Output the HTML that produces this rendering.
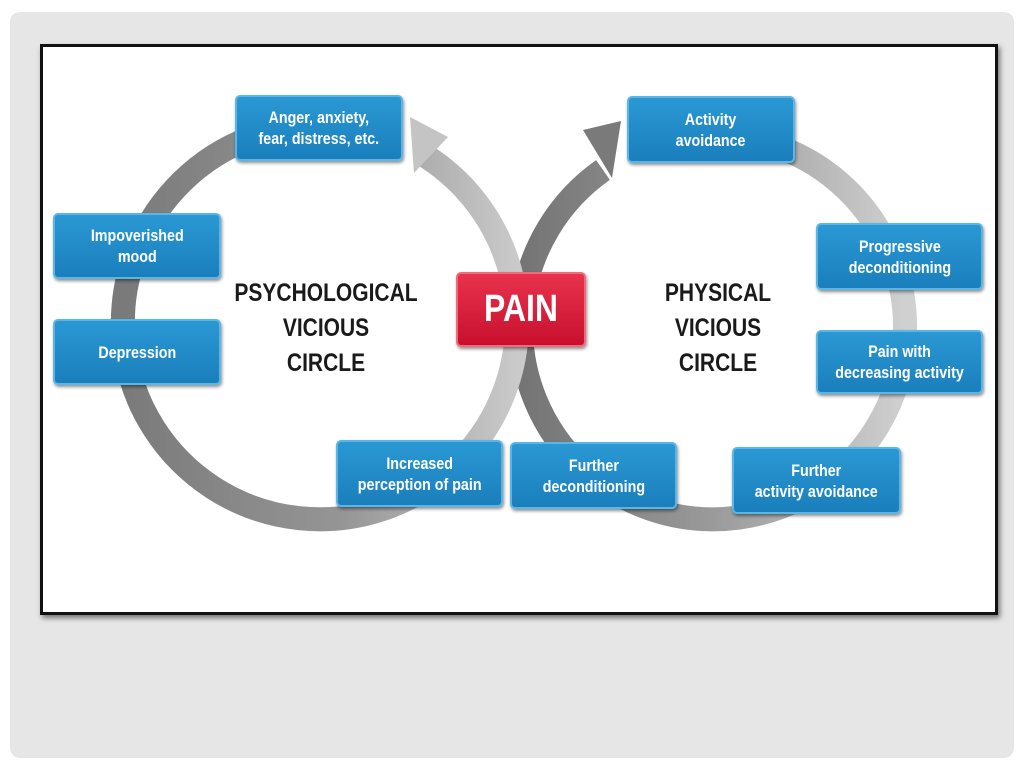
<!DOCTYPE html>
<html><head><meta charset="utf-8"><style>
html,body{margin:0;padding:0;background:#fff;}
body{width:1024px;height:768px;position:relative;overflow:hidden;font-family:"Liberation Sans",sans-serif;}
.panel{position:absolute;left:10px;top:12px;width:1004px;height:746px;background:#e6e6e6;border-radius:10px;}
.frame{position:absolute;left:40px;top:44px;width:952px;height:565px;background:#fff;border:3px solid #111;box-shadow:2px 3px 5px rgba(0,0,0,.5);}
svg{position:absolute;left:0;top:0;}
.b{position:absolute;background:linear-gradient(#2a98d4,#1a7fbc);border:2px solid #5bb6e6;border-radius:5px;box-shadow:1px 2px 3px rgba(0,0,0,.45);color:#fff;font-weight:bold;font-size:17px;line-height:21px;text-align:center;display:flex;align-items:center;justify-content:center;box-sizing:border-box;white-space:nowrap;}
.b span{display:inline-block;transform:scaleX(0.84);}
.t{position:absolute;font-weight:bold;font-size:25px;line-height:35px;text-align:center;color:#1a1a1a;width:240px;transform:scaleX(0.84);}
</style></head><body>
<div class="panel"></div>
<div class="frame"></div>
<svg width="1024" height="768">
<defs>
<linearGradient id="gl" x1="0" x2="1" y1="0" y2="0"><stop offset="0" stop-color="#7a7a7a"/><stop offset="0.55" stop-color="#959595"/><stop offset="1" stop-color="#cacaca"/></linearGradient>
<linearGradient id="gr" x1="0" x2="1" y1="0" y2="0"><stop offset="0" stop-color="#747474"/><stop offset="0.5" stop-color="#9a9a9a"/><stop offset="1" stop-color="#d0d0d0"/></linearGradient>
</defs>
<path d="M 603 170 A 192 192 0 1 0 779 147" fill="none" stroke="url(#gr)" stroke-width="24"/>
<polygon points="621,121 583,130 612,178" fill="#7a7a7a"/>
<path d="M 424 155 A 197 197 0 1 1 253 137" fill="none" stroke="url(#gl)" stroke-width="24"/>
<polygon points="410,117 448,137 414,173" fill="#c4c4c4"/>
</svg>
<div class="b" style="left:235px;top:95px;width:168px;height:66px"><span>Anger, anxiety,<br>fear, distress, etc.</span></div>
<div class="b" style="left:53px;top:213px;width:168px;height:66px"><span>Impoverished<br>mood</span></div>
<div class="b" style="left:53px;top:319px;width:168px;height:66px"><span>Depression</span></div>
<div class="b" style="left:336px;top:440px;width:167px;height:67px"><span>Increased<br>perception of pain</span></div>
<div class="b" style="left:510px;top:442px;width:167px;height:67px"><span>Further<br>deconditioning</span></div>
<div class="b" style="left:627px;top:96px;width:168px;height:67px"><span>Activity<br>avoidance</span></div>
<div class="b" style="left:816px;top:223px;width:167px;height:67px"><span>Progressive<br>deconditioning</span></div>
<div class="b" style="left:816px;top:330px;width:167px;height:64px"><span>Pain with<br>decreasing activity</span></div>
<div class="b" style="left:732px;top:447px;width:169px;height:67px"><span>Further<br>activity avoidance</span></div>
<div class="b" style="left:456px;top:272px;width:130px;height:75px;background:linear-gradient(#e8334d,#c8102e);border-color:#f06a7c;font-size:38px;"><span>PAIN</span></div>
<div class="t" style="left:206px;top:276px">PSYCHOLOGICAL<br>VICIOUS<br>CIRCLE</div>
<div class="t" style="left:598px;top:276px">PHYSICAL<br>VICIOUS<br>CIRCLE</div>
</body></html>
